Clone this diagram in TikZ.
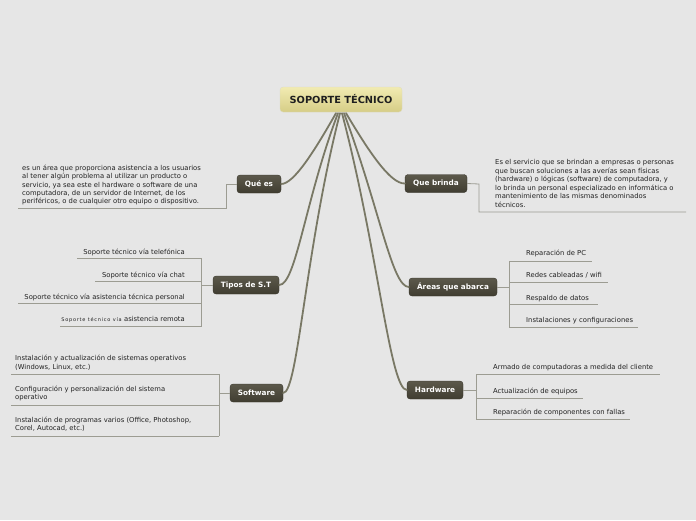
\documentclass[tikz,border=0pt]{standalone}
\usepackage{fontspec}
\setmainfont{DejaVu Sans}
\usetikzlibrary{calc}
\definecolor{bgc}{HTML}{E6E6E6}
\definecolor{conn}{HTML}{797865}
\definecolor{leafln}{HTML}{9C9C92}
\definecolor{brtop}{HTML}{5C594B}
\definecolor{brbot}{HTML}{403D31}
\definecolor{rttop}{HTML}{F1EBB2}
\definecolor{rtbot}{HTML}{D6CD86}
\definecolor{txt}{HTML}{222222}
\tikzset{
  rootbox/.style={rounded corners=3pt, top color=rttop, bottom color=rtbot, draw=rtbot!80!black!40, line width=0.3pt,
    minimum width=122pt, minimum height=25pt, inner sep=0pt, text=txt!90!black,
    font=\fontsize{9.8}{11}\selectfont\bfseries},
  branch/.style={rounded corners=3pt, top color=brtop, bottom color=brbot, draw=brbot!80!black, line width=0.3pt,
    minimum height=18pt, inner sep=0pt, text=white, font=\fontsize{7.3}{8}\selectfont\bfseries},
  rootline/.style={draw=conn, line width=1.8pt, line cap=round},
  leafline/.style={draw=leafln, line width=0.8pt},
  leaftext/.style={inner sep=0pt, text=txt, font=\fontsize{6.8}{8.5}\selectfont, align=left},
}
\begin{document}
\begin{tikzpicture}[x=1pt,y=-1pt]
\fill[bgc] (0,0) rectangle (696,520);
\useasboundingbox (0,0) rectangle (696,520);

% root
\node[rootbox] (root) at (341,99.5) {SOPORTE TÉCNICO};

% branches
\node[branch, minimum width=44pt] (quees) at (259,184) {Qué es};
\node[branch, minimum width=62pt] (brinda) at (436,183.5) {Que brinda};
\node[branch, minimum width=66pt] (tipos) at (246,285) {Tipos de S.T};
\node[branch, minimum width=88pt] (areas) at (453,287) {Áreas que abarca};
\node[branch, minimum width=53pt] (soft) at (256.5,393) {Software};
\node[branch, minimum width=56pt] (hard) at (435,390) {Hardware};

% root connectors
\draw[rootline] ($(root.south)+(-5,1)$) .. controls (315,150) and (294,184) .. (quees.east);
\draw[rootline] ($(root.south)+(-3,1)$) .. controls (305,200) and (296,285) .. (tipos.east);
\draw[rootline] ($(root.south)+(-1,1)$) .. controls (305,250) and (298,393) .. (soft.east);
\draw[rootline] ($(root.south)+(5,1)$) .. controls (368,150) and (390,184) .. (brinda.west);
\draw[rootline] ($(root.south)+(3,1)$) .. controls (380,210) and (392,287) .. (areas.west);
\draw[rootline] ($(root.south)+(1,1)$) .. controls (378,250) and (390,390) .. (hard.west);

% Qué es
\coordinate (qj) at (226,184);
\coordinate (qb) at (226,208);
\coordinate (qe) at (18,208);
\draw[leafline] (quees.west) -- (qj) -- (qb) -- (qe);
\node[leaftext, anchor=base west, font=\fontsize{6.8}{8.25}\selectfont] (qtext) at (22,203.5)
 {es un área que proporciona asistencia a los usuarios\\
  al tener algún problema al utilizar un producto o\\
  servicio, ya sea este el hardware o software de una\\
  computadora, de un servidor de Internet, de los\\
  periféricos, o de cualquier otro equipo o dispositivo.};

% Que brinda
\coordinate (bj) at (479,184);
\coordinate (bb) at (479,212);
\coordinate (be) at (686,212);
\draw[leafline] (brinda.east) -- (bj) -- (bb) -- (be);
\node[leaftext, anchor=base west] (btext) at (495,207)
 {Es el servicio que se brindan a empresas o personas\\
  que buscan soluciones a las averías sean físicas\\
  (hardware) o lógicas (software) de computadora, y\\
  lo brinda un personal especializado en informática o\\
  mantenimiento de las mismas denominados\\
  técnicos.};

% Tipos de S.T
\coordinate (tj) at (201.5,285);
\coordinate (t1) at (201.5,258.5);
\coordinate (t2) at (201.5,281.5);
\coordinate (t3) at (201.5,303.5);
\coordinate (t4) at (201.5,326);
\coordinate (t1e) at (77,258.5);
\coordinate (t2e) at (95,281.5);
\coordinate (t3e) at (18,303.5);
\coordinate (t4e) at (60,326);
\draw[leafline] (tipos.west) -- (tj);
\draw[leafline] (t1) -- (t4);
\draw[leafline] (t1) -- (t1e);
\draw[leafline] (t2) -- (t2e);
\draw[leafline] (t3) -- (t3e);
\draw[leafline] (t4) -- (t4e);
\node[leaftext, anchor=base east] (tl1) at (185,254) {Soporte técnico vía telefónica};
\node[leaftext, anchor=base east] (tl2) at (185,277) {Soporte técnico vía chat};
\node[leaftext, anchor=base east] (tl3) at (185,299) {Soporte técnico vía asistencia técnica personal};
\node[leaftext, anchor=base east] (tl4) at (185,321.5) {{\fontsize{5}{6}\selectfont\addfontfeature{LetterSpace=15}Soporte técnico vía }asistencia remota};

% Áreas que abarca
\coordinate (aj) at (509,287);
\coordinate (a1) at (509,261);
\coordinate (a2) at (509,282);
\coordinate (a3) at (509,304.5);
\coordinate (a4) at (509,327);
\coordinate (a1e) at (592,261);
\coordinate (a2e) at (608,282);
\coordinate (a3e) at (598,304.5);
\coordinate (a4e) at (638,327);
\draw[leafline] (areas.east) -- (aj);
\draw[leafline] (a1) -- (a4);
\draw[leafline] (a1) -- (a1e);
\draw[leafline] (a2) -- (a2e);
\draw[leafline] (a3) -- (a3e);
\draw[leafline] (a4) -- (a4e);
\node[leaftext, anchor=base west] (al1) at (526,255) {Reparación de PC};
\node[leaftext, anchor=base west] (al2) at (526,277.5) {Redes cableadas / wifi};
\node[leaftext, anchor=base west] (al3) at (526,300) {Respaldo de datos};
\node[leaftext, anchor=base west] (al4) at (526,322.5) {Instalaciones y configuraciones};

% Software
\coordinate (sj) at (219,393);
\coordinate (s1) at (219,374);
\coordinate (s2) at (219,405);
\coordinate (s3) at (219,436);
\coordinate (s1e) at (11,374);
\coordinate (s2e) at (11,405);
\coordinate (s3e) at (11,436);
\draw[leafline] (soft.west) -- (sj);
\draw[leafline] (s1) -- (s3);
\draw[leafline] (s1) -- (s1e);
\draw[leafline] (s2) -- (s2e);
\draw[leafline] (s3) -- (s3e);
\node[leaftext, anchor=base west] (sl1) at (15,369) {Instalación y actualización de sistemas operativos\\(Windows, Linux, etc.)};
\node[leaftext, anchor=base west] (sl2) at (15,399.5) {Configuración y personalización del sistema\\operativo};
\node[leaftext, anchor=base west] (sl3) at (15,430.5) {Instalación de programas varios (Office, Photoshop,\\Corel, Autocad, etc.)};

% Hardware
\coordinate (hj) at (476,390);
\coordinate (h1) at (476,374.5);
\coordinate (h2) at (476,398);
\coordinate (h3) at (476,419.5);
\coordinate (h1e) at (660,374.5);
\coordinate (h2e) at (583,398);
\coordinate (h3e) at (630,419.5);
\draw[leafline] (hard.east) -- (hj);
\draw[leafline] (h1) -- (h3);
\draw[leafline] (h1) -- (h1e);
\draw[leafline] (h2) -- (h2e);
\draw[leafline] (h3) -- (h3e);
\node[leaftext, anchor=base west] (hl1) at (493,369.5) {Armado de computadoras a medida del cliente};
\node[leaftext, anchor=base west] (hl2) at (493,393) {Actualización de equipos};
\node[leaftext, anchor=base west] (hl3) at (493,414.5) {Reparación de componentes con fallas};
\end{tikzpicture}
\end{document}
